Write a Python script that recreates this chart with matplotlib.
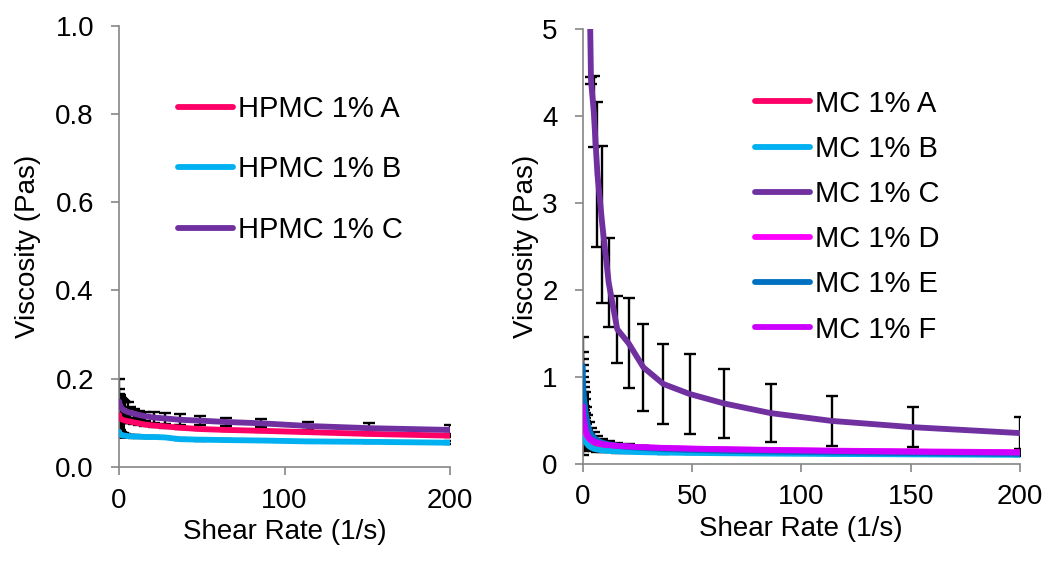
import matplotlib
matplotlib.use("Agg")
import matplotlib.pyplot as plt
from matplotlib.ticker import FormatStrFormatter

plt.rcParams['font.family'] = ['Liberation Sans', 'DejaVu Sans']
plt.rcParams['font.size'] = 20

# ---------------- data ----------------
shear_rate = [0.100, 0.1325, 0.1756, 0.2327, 0.3083, 0.4086, 0.5415, 0.7176, 0.951,
              1.260, 1.670, 2.213, 2.933, 3.886, 5.150, 6.825, 9.04, 11.98, 15.88,
              21.04, 27.88, 36.95, 48.96, 64.88, 85.98, 113.9, 150.9, 200.0]

# HPMC 1% (left panel)
hpmc_a = [0.118, 0.117, 0.116, 0.115, 0.114, 0.113, 0.112, 0.111, 0.110, 0.109,
          0.108, 0.107, 0.106, 0.105, 0.104, 0.103, 0.101, 0.099, 0.096, 0.094,
          0.092, 0.089, 0.086, 0.084, 0.082, 0.079, 0.075, 0.071]
hpmc_a_err = [0.020, 0.015, 0.012, 0.010, 0.010, 0.009, 0.008, 0.008, 0.007, 0.007,
              0.006, 0.006, 0.005, 0.005, 0.005, 0.004, 0.004, 0.004, 0.003, 0.003,
              0.003, 0.003, 0.003, 0.003, 0.003, 0.003, 0.003, 0.004]
hpmc_b = [0.080, 0.079, 0.078, 0.077, 0.076, 0.076, 0.075, 0.074, 0.074, 0.073,
          0.072, 0.072, 0.071, 0.071, 0.070, 0.070, 0.069, 0.069, 0.068, 0.068,
          0.067, 0.063, 0.062, 0.061, 0.060, 0.058, 0.057, 0.055]
hpmc_b_err = [0.012, 0.010, 0.009, 0.008, 0.007, 0.006, 0.006, 0.005, 0.005, 0.004,
              0.004, 0.004, 0.003, 0.003, 0.003, 0.003, 0.003, 0.002, 0.002, 0.002,
              0.002, 0.002, 0.002, 0.002, 0.002, 0.002, 0.002, 0.003]
hpmc_c = [0.148, 0.147, 0.146, 0.145, 0.144, 0.142, 0.141, 0.139, 0.137, 0.135,
          0.133, 0.131, 0.129, 0.127, 0.125, 0.123, 0.121, 0.118, 0.115, 0.112,
          0.110, 0.107, 0.105, 0.102, 0.099, 0.093, 0.088, 0.084]
hpmc_c_err = [0.051, 0.030, 0.018, 0.020, 0.020, 0.020, 0.020, 0.020, 0.020, 0.020,
              0.020, 0.020, 0.020, 0.020, 0.023, 0.012, 0.010, 0.010, 0.010, 0.012,
              0.0115, 0.012, 0.0105, 0.010, 0.009, 0.010, 0.011, 0.011]

# MC 1% (right panel)
mc_a = [0.50, 0.48, 0.46, 0.44, 0.42, 0.40, 0.38, 0.36, 0.34, 0.32,
        0.30, 0.28, 0.26, 0.24, 0.225, 0.21, 0.20, 0.19, 0.182, 0.175,
        0.168, 0.161, 0.155, 0.149, 0.143, 0.137, 0.130, 0.122]
mc_a_err = [0.20, 0.15, 0.12, 0.10, 0.09, 0.08, 0.07, 0.06, 0.05, 0.045,
            0.04, 0.035, 0.03, 0.027, 0.024, 0.022, 0.02, 0.018, 0.016, 0.015,
            0.014, 0.013, 0.012, 0.011, 0.010, 0.010, 0.010, 0.010]
mc_b = [0.35, 0.34, 0.33, 0.32, 0.31, 0.30, 0.29, 0.28, 0.27, 0.255,
        0.24, 0.22, 0.20, 0.185, 0.17, 0.16, 0.152, 0.145, 0.140, 0.135,
        0.130, 0.126, 0.122, 0.118, 0.114, 0.110, 0.105, 0.100]
mc_b_err = [0.25, 0.20, 0.16, 0.13, 0.11, 0.10, 0.09, 0.08, 0.07, 0.06,
            0.05, 0.045, 0.04, 0.035, 0.03, 0.025, 0.02, 0.018, 0.016, 0.015,
            0.014, 0.013, 0.012, 0.011, 0.010, 0.010, 0.010, 0.010]
mc_c = [40.0, 35.0, 30.0, 26.0, 22.0, 19.0, 16.0, 14.0, 12.0, 10.0,
        8.5, 7.2, 6.0, 4.41, 4.05, 3.33, 2.75, 2.08, 1.545, 1.385,
        1.105, 0.915, 0.80, 0.69, 0.58, 0.49, 0.418, 0.35]
mc_c_err = [4.0, 3.5, 3.0, 2.6, 2.2, 1.9, 1.6, 1.4, 1.2, 1.0,
            0.85, 0.72, 0.6, 0.04, 0.41, 0.835, 0.90, 0.51, 0.385, 0.515,
            0.505, 0.465, 0.46, 0.40, 0.335, 0.29, 0.232, 0.18]
mc_d = [0.62, 0.60, 0.57, 0.55, 0.52, 0.49, 0.46, 0.43, 0.40, 0.37,
        0.34, 0.31, 0.285, 0.265, 0.25, 0.235, 0.222, 0.212, 0.203, 0.195,
        0.187, 0.180, 0.172, 0.165, 0.157, 0.148, 0.140, 0.130]
mc_d_err = [0.15, 0.13, 0.11, 0.10, 0.09, 0.08, 0.07, 0.06, 0.05, 0.045,
            0.04, 0.035, 0.03, 0.027, 0.024, 0.022, 0.02, 0.018, 0.016, 0.015,
            0.014, 0.013, 0.012, 0.011, 0.010, 0.010, 0.010, 0.010]
mc_e = [1.12, 1.05, 1.00, 0.95, 0.90, 0.85, 0.80, 0.75, 0.70, 0.63,
        0.55, 0.47, 0.40, 0.34, 0.30, 0.265, 0.24, 0.22, 0.205, 0.19,
        0.178, 0.166, 0.156, 0.146, 0.137, 0.128, 0.119, 0.110]
mc_e_err = [0.34, 0.23, 0.20, 0.18, 0.16, 0.15, 0.14, 0.13, 0.12, 0.11,
            0.10, 0.09, 0.08, 0.07, 0.06, 0.05, 0.045, 0.04, 0.035, 0.03,
            0.028, 0.025, 0.022, 0.020, 0.018, 0.016, 0.014, 0.012]
mc_f = [0.66, 0.64, 0.62, 0.60, 0.57, 0.54, 0.51, 0.48, 0.45, 0.41,
        0.37, 0.33, 0.30, 0.275, 0.255, 0.24, 0.225, 0.213, 0.203, 0.195,
        0.186, 0.178, 0.170, 0.162, 0.154, 0.145, 0.135, 0.125]
mc_f_err = [0.12, 0.10, 0.09, 0.08, 0.07, 0.06, 0.05, 0.045, 0.04, 0.035,
            0.03, 0.028, 0.025, 0.022, 0.02, 0.018, 0.016, 0.015, 0.014, 0.013,
            0.012, 0.011, 0.010, 0.010, 0.010, 0.010, 0.010, 0.010]

hpmc_series = [("HPMC 1% A", hpmc_a, hpmc_a_err, "#FF0066"),
               ("HPMC 1% B", hpmc_b, hpmc_b_err, "#00B0F0"),
               ("HPMC 1% C", hpmc_c, hpmc_c_err, "#7030A0")]
mc_series = [("MC 1% A", mc_a, mc_a_err, "#FF0066"),
             ("MC 1% B", mc_b, mc_b_err, "#00B0F0"),
             ("MC 1% C", mc_c, mc_c_err, "#7030A0"),
             ("MC 1% D", mc_d, mc_d_err, "#FF00FF"),
             ("MC 1% E", mc_e, mc_e_err, "#0070C0"),
             ("MC 1% F", mc_f, mc_f_err, "#CC00FF")]

# ---------------- figure ----------------
W, H = 1050, 565
fig = plt.figure(figsize=(W / 100, H / 100), dpi=100)

def px_axes(x0, y0, x1, y1):
    return fig.add_axes([x0 / W, 1 - y1 / H, (x1 - x0) / W, (y1 - y0) / H])

ax1 = px_axes(119, 25.7, 450, 467)
ax2 = px_axes(582.5, 29, 1020, 463.5)

grey = "#868686"

def draw(ax, series):
    handles = []
    for label, vals, errs, col in series:
        ax.errorbar(shear_rate, vals, yerr=errs, fmt='none', ecolor='black',
                    elinewidth=1.7, capsize=4.5, capthick=1.7, zorder=2)
    for label, vals, errs, col in series:
        ln, = ax.plot(shear_rate, vals, color=col, lw=4.2, label=label,
                      solid_capstyle='round', solid_joinstyle='round', zorder=3)
        handles.append(ln)
    return handles

def style(ax, ylabelpad):
    for s in ['top', 'right']:
        ax.spines[s].set_visible(False)
    for s in ['left', 'bottom']:
        ax.spines[s].set_color(grey)
        ax.spines[s].set_linewidth(1.2)
    ax.tick_params(axis='both', direction='out', length=6, width=1.2,
                   color=grey, labelsize=20, labelcolor='black')
    ax.tick_params(axis='y', pad=12)
    ax.tick_params(axis='x', pad=9)
    ax.set_xlabel("Shear Rate (1/s)", fontsize=20, labelpad=4)
    ax.set_ylabel("Viscosity (Pas)", fontsize=20, labelpad=ylabelpad)

h1 = draw(ax1, hpmc_series)
ax1.set_xlim(0, 200)
ax1.set_ylim(0, 1.0)
ax1.set_xticks([0, 100, 200])
ax1.set_yticks([0, 0.2, 0.4, 0.6, 0.8, 1.0])
ax1.yaxis.set_major_formatter(FormatStrFormatter('%.1f'))
style(ax1, 10)
ax1.legend(handles=h1, loc='upper left', bbox_to_anchor=(178 / W, 1 - 95 / H),
           bbox_transform=fig.transFigure, frameon=False, borderpad=0,
           borderaxespad=0, handlelength=1.9, handletextpad=0.15,
           labelspacing=1.11, fontsize=21)

h2 = draw(ax2, mc_series)
ax2.set_xlim(0, 200)
ax2.set_ylim(0, 5)
ax2.set_xticks([0, 50, 100, 150, 200])
ax2.set_yticks([0, 1, 2, 3, 4, 5])
style(ax2, 2)
ax2.legend(handles=h2, loc='upper left', bbox_to_anchor=(755 / W, 1 - 89.5 / H),
           bbox_transform=fig.transFigure, frameon=False, borderpad=0,
           borderaxespad=0, handlelength=1.9, handletextpad=0.15,
           labelspacing=0.59, fontsize=21)

fig.savefig("out.png", dpi=100)
